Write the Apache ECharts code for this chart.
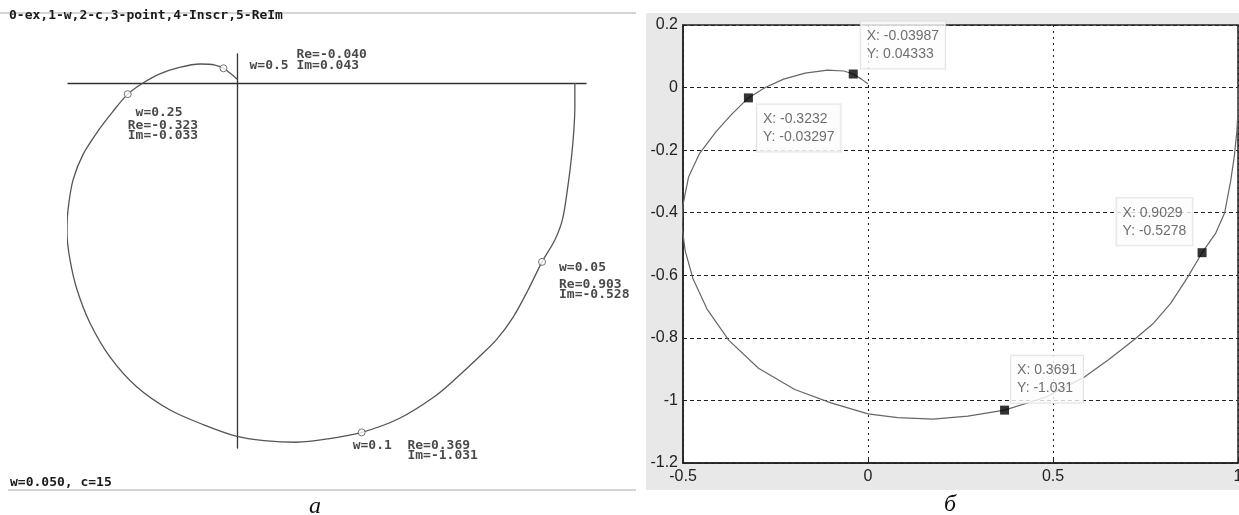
<!DOCTYPE html>
<html>
<head>
<meta charset="utf-8">
<script src="https://cdn.jsdelivr.net/npm/echarts@6/dist/echarts.min.js"></script>
<style>
  html, body { margin: 0; padding: 0; background: #fff; }
  #chart { width: 1239px; height: 515px; }
</style>
</head>
<body>
<div id="chart"></div>
<script>
// Nyquist curve (Re, Im), from w=0 going clockwise
const curveRe = [1.000, 1.000, 0.997, 0.990, 0.980, 0.964, 0.940, 0.9029, 0.862, 0.818, 0.770, 0.720,
  0.650, 0.585, 0.480, 0.3691, 0.270, 0.176, 0.080, 0.000, -0.100, -0.198, -0.296, -0.376, -0.435,
  -0.473, -0.494, -0.503, -0.500, -0.485, -0.455, -0.410, -0.368, -0.3232, -0.278, -0.228, -0.170,
  -0.109, -0.065, -0.03987, -0.018, 0.000];
const curveIm = [0.000, -0.070, -0.140, -0.220, -0.300, -0.400, -0.465, -0.5278, -0.610, -0.690, -0.755, -0.805,
  -0.870, -0.925, -0.990, -1.031, -1.050, -1.060, -1.055, -1.043, -1.008, -0.965, -0.897, -0.808, -0.708,
  -0.611, -0.522, -0.442, -0.375, -0.286, -0.210, -0.140, -0.085, -0.03297, 0.000, 0.027, 0.046,
  0.056, 0.053, 0.04333, 0.027, 0.012];

// marked points
const markW = [0.5, 0.25, 0.05, 0.1];
const markRe = [-0.03987, -0.3232, 0.9029, 0.3691];
const markIm = [0.04333, -0.03297, -0.5278, -1.031];

const menuText = "0-ex,1-w,2-c,3-point,4-Inscr,5-ReIm";
const statusText = "w=0.050, c=15";
const captions = ["а", "б"];

const curve = curveRe.map((r, i) => [r, curveIm[i]]);
const marks = markRe.map((r, i) => [r, markIm[i]]);

const MONO = "'DejaVu Sans Mono', monospace";
const dosText = { fontFamily: MONO, fontWeight: "bold", fontSize: 13, color: "#1a1a1a" };

// left (DOS screen) labels: layout per point, rich text lines
const dosFmt = [
  (w, re, im) => `{b|      Re=${re}}\n{b|w=${w} Im=${im}}`,
  (w, re, im) => `{a| w=${w}}\n{b|Re=${re}}\n{b|Im=${im}}`,
  (w, re, im) => `{a|w=${w}}\n{b|Re=${re}}\n{b|Im=${im}}`,
  (w, re, im) => `{b|w=${w}  Re=${re}}\n{b|       Im=${im}}`
];
const dosPos = [[30, -15], [4, 14], [21, -2], [-5, 12]];
const dosHead = [11, 16, 24, 10];
const dosLine = [11, 10, 10, 10];

// right (datatip) box positions
const tipPos = [[12, -48], [13, 11], [-81, -50], [11, -50]];

const chart = echarts.init(document.getElementById("chart"), null, { renderer: "canvas" });

chart.setOption({
  animation: false,
  backgroundColor: "#fff",
  graphic: [
    { type: "rect", z: -1, shape: { x: 646, y: 13, width: 593, height: 477 }, style: { fill: "#e8e8e8" } },
    { type: "line", shape: { x1: 0, y1: 13, x2: 636, y2: 13 }, style: { stroke: "#aaa", lineWidth: 1 } },
    { type: "line", shape: { x1: 8, y1: 490, x2: 636, y2: 490 }, style: { stroke: "#aaa", lineWidth: 1 } },
    { type: "text", x: 9, y: 16, style: { text: menuText, font: "bold 13px " + MONO, fill: "#1a1a1a", verticalAlign: "middle" } },
    { type: "text", x: 10, y: 483, style: { text: statusText, font: "bold 13px " + MONO, fill: "#1a1a1a", verticalAlign: "middle" } },
    { type: "text", x: 315, y: 507, style: { text: captions[0], font: "italic 24px 'Liberation Serif', serif", fill: "#111", align: "center", verticalAlign: "middle" } },
    { type: "text", x: 950, y: 505, style: { text: captions[1], font: "italic 24px 'Liberation Serif', serif", fill: "#111", align: "center", verticalAlign: "middle" } }
  ],
  grid: [
    { left: 68, right: 653, top: 54, bottom: 67, outerBoundsMode: "none" },
    {
      left: 683, right: 1, top: 25, bottom: 52, outerBoundsMode: "none",
      show: true, backgroundColor: "#fff", borderColor: "#222", borderWidth: 1.5
    }
  ],
  xAxis: [
    {
      gridIndex: 0, type: "value", min: -0.5, max: 1.033,
      axisLine: { show: true, onZero: true, lineStyle: { color: "#333", width: 1.3 } },
      axisTick: { show: false }, axisLabel: { show: false }, splitLine: { show: false }
    },
    {
      gridIndex: 1, type: "value", min: -0.5, max: 1, interval: 0.5,
      axisLine: { show: true, onZero: false, lineStyle: { color: "#222", width: 1.5 } },
      axisTick: { show: true, inside: true, length: 4, lineStyle: { color: "#222" } },
      axisLabel: { color: "#222", fontSize: 16, fontFamily: "'Liberation Sans', Arial, sans-serif", margin: 6 },
      splitLine: { show: true, lineStyle: { color: "#222", width: 1, type: [2, 4] } }
    }
  ],
  yAxis: [
    {
      gridIndex: 0, type: "value", min: -1.077, max: 0.0855,
      axisLine: { show: true, onZero: true, lineStyle: { color: "#333", width: 1.3 } },
      axisTick: { show: false }, axisLabel: { show: false }, splitLine: { show: false }
    },
    {
      gridIndex: 1, type: "value", min: -1.2, max: 0.2, interval: 0.2,
      axisLine: { show: true, onZero: false, lineStyle: { color: "#222", width: 1.5 } },
      axisTick: { show: true, inside: true, length: 4, lineStyle: { color: "#222" } },
      axisLabel: { color: "#222", fontSize: 16, fontFamily: "'Liberation Sans', Arial, sans-serif", margin: 5 },
      splitLine: { show: true, lineStyle: { color: "#222", width: 1, type: [4, 3] } }
    }
  ],
  series: [
    {
      type: "line", xAxisIndex: 0, yAxisIndex: 0, data: curve, smooth: 0.3, clip: false,
      showSymbol: false, lineStyle: { color: "#555", width: 1.3 }, z: 2
    },
    {
      type: "scatter", xAxisIndex: 0, yAxisIndex: 0, symbol: "circle", symbolSize: 7,
      itemStyle: { color: "#fff", borderColor: "#555", borderWidth: 1 }, z: 3,
      data: marks.map((p, i) => ({
        value: p,
        label: {
          show: true,
          position: dosPos[i],
          align: "left",
          verticalAlign: "top",
          ...dosText,
          formatter: () => dosFmt[i](markW[i], markRe[i].toFixed(3), markIm[i].toFixed(3)),
          rich: {
            a: { ...dosText, lineHeight: dosHead[i] },
            b: { ...dosText, lineHeight: dosLine[i] }
          }
        }
      }))
    },
    {
      type: "line", xAxisIndex: 1, yAxisIndex: 1, data: curve, smooth: false, clip: true,
      showSymbol: false, lineStyle: { color: "#666", width: 1.2 }, z: 2
    },
    {
      type: "scatter", xAxisIndex: 1, yAxisIndex: 1, symbol: "rect", symbolSize: 9,
      itemStyle: { color: "#000" }, z: 4,
      data: marks.map((p, i) => ({
        value: p,
        label: {
          show: true,
          position: tipPos[i],
          align: "left",
          verticalAlign: "top",
          fontFamily: "'Liberation Sans', Arial, sans-serif",
          fontSize: 14,
          lineHeight: 18,
          color: "#4a4a4a",
          backgroundColor: "#fcfcfc",
          borderColor: "#dcdcdc",
          borderWidth: 1,
          padding: [6, 6, 5, 6],
          formatter: () => "X: " + markRe[i].toPrecision(4) + "\nY: " + markIm[i].toPrecision(4)
        }
      }))
    }
  ]
});
</script>
</body>
</html>
